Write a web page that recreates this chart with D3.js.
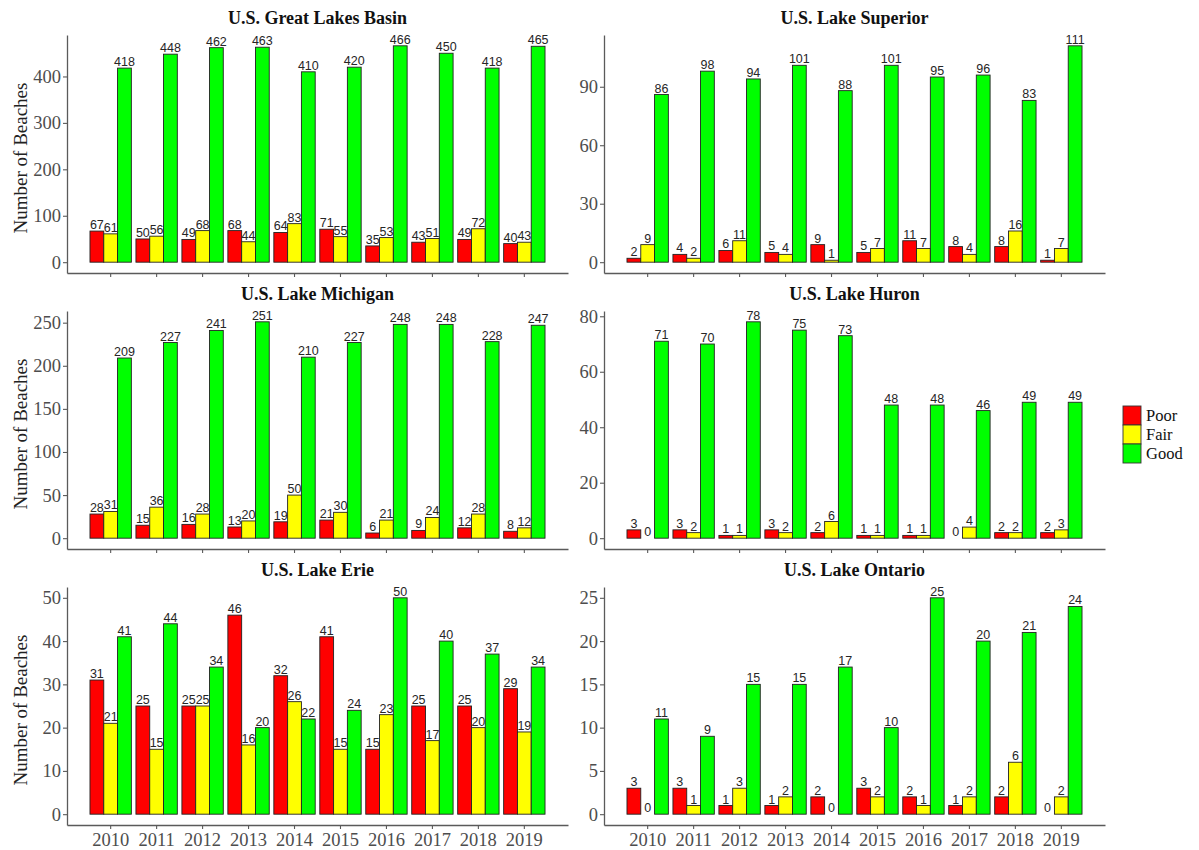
<!DOCTYPE html>
<html>
<head>
<meta charset="utf-8">
<script src="https://cdn.jsdelivr.net/npm/d3@7"></script>
<style>
  html, body { margin: 0; padding: 0; background: #fff; }
  svg { display: block; }
</style>
</head>
<body>
<svg id="chart" width="1199" height="850"></svg>
<script>
// Beach water-quality ratings per year, by lake
const years = ["2010","2011","2012","2013","2014","2015","2016","2017","2018","2019"];
const ratings = ["Poor","Fair","Good"];
const ratingColors = ["#ff0000","#ffff00","#00ff00"];

const basinPoor = [67,50,49,68,64,71,35,43,49,40];
const basinFair = [61,56,68,44,83,55,53,51,72,43];
const basinGood = [418,448,462,463,410,420,466,450,418,465];

const superiorPoor = [2,4,6,5,9,5,11,8,8,1];
const superiorFair = [9,2,11,4,1,7,7,4,16,7];
const superiorGood = [86,98,94,101,88,101,95,96,83,111];

const michiganPoor = [28,15,16,13,19,21,6,9,12,8];
const michiganFair = [31,36,28,20,50,30,21,24,28,12];
const michiganGood = [209,227,241,251,210,227,248,248,228,247];

const huronPoor = [3,3,1,3,2,1,1,0,2,2];
const huronFair = [0,2,1,2,6,1,1,4,2,3];
const huronGood = [71,70,78,75,73,48,48,46,49,49];

const eriePoor = [31,25,25,46,32,41,15,25,25,29];
const erieFair = [21,15,25,16,26,15,23,17,20,19];
const erieGood = [41,44,34,20,22,24,50,40,37,34];

const ontarioPoor = [3,3,1,1,2,3,2,1,2,0];
const ontarioFair = [0,1,3,2,0,2,1,2,6,2];
const ontarioGood = [11,9,15,15,17,10,25,20,21,24];

const basinTicks = [0,100,200,300,400];
const superiorTicks = [0,30,60,90];
const michiganTicks = [0,50,100,150,200,250];
const huronTicks = [0,20,40,60,80];
const erieTicks = [0,10,20,30,40,50];
const ontarioTicks = [0,5,10,15,20,25];

const panels = [
  { title: "U.S. Great Lakes Basin", col: 0, row: 0, series: [basinPoor, basinFair, basinGood], ticks: basinTicks },
  { title: "U.S. Lake Superior",     col: 1, row: 0, series: [superiorPoor, superiorFair, superiorGood], ticks: superiorTicks },
  { title: "U.S. Lake Michigan",     col: 0, row: 1, series: [michiganPoor, michiganFair, michiganGood], ticks: michiganTicks },
  { title: "U.S. Lake Huron",        col: 1, row: 1, series: [huronPoor, huronFair, huronGood], ticks: huronTicks },
  { title: "U.S. Lake Erie",         col: 0, row: 2, series: [eriePoor, erieFair, erieGood], ticks: erieTicks },
  { title: "U.S. Lake Ontario",      col: 1, row: 2, series: [ontarioPoor, ontarioFair, ontarioGood], ticks: ontarioTicks }
];

// Layout of the 2 x 3 grid of panels
const colX = [[67, 568], [604, 1105]];
const rowTop = [35, 311, 587];
const panelH = 238;

const serif = "'Liberation Serif', 'Times New Roman', serif";
const sans = "'Liberation Sans', Arial, sans-serif";
const axisGrey = "#5a5a5a";
const textGrey = "#4d4d4d";

const svg = d3.select("#chart");

panels.forEach(p => {
  const [x0, x1] = colX[p.col];
  const y0 = rowTop[p.row], y1 = y0 + panelH;
  const maxV = d3.max(p.series.flat());

  const x = d3.scaleBand().domain(years).range([x0, x1]).paddingInner(0.1).paddingOuter(0.5);
  const xInner = d3.scaleBand().domain(ratings).range([0, x.bandwidth()]);
  const y = d3.scaleLinear().domain([-0.05 * maxV, 1.05 * maxV]).range([y1, y0]);

  const g = svg.append("g");

  // Title
  g.append("text")
    .attr("x", (x0 + x1) / 2).attr("y", y0 - 11)
    .attr("text-anchor", "middle")
    .style("font-family", serif).style("font-weight", "bold").style("font-size", "18px")
    .attr("fill", "#111")
    .text(p.title);

  // Bars and value labels
  const rows = [];
  years.forEach((yr, i) => {
    ratings.forEach((r, k) => rows.push({ yr, r, k, v: p.series[k][i] }));
  });

  g.append("g").selectAll("rect").data(rows).join("rect")
    .attr("x", d => x(d.yr) + xInner(d.r))
    .attr("width", xInner.bandwidth())
    .attr("y", d => y(d.v))
    .attr("height", d => y(0) - y(d.v))
    .attr("fill", d => ratingColors[d.k])
    .attr("stroke", "#222")
    .attr("stroke-width", 0.9);

  g.append("g").selectAll("text").data(rows).join("text")
    .attr("x", d => x(d.yr) + xInner(d.r) + xInner.bandwidth() / 2)
    .attr("y", d => y(d.v) - 2)
    .attr("text-anchor", "middle")
    .style("font-family", sans).style("font-size", "12.5px")
    .attr("fill", "#262626")
    .text(d => d.v);

  // Axes
  const yAxis = d3.axisLeft(y).tickValues(p.ticks).tickSize(4).tickSizeOuter(0).tickPadding(2);
  const xAxis = d3.axisBottom(x).tickSize(4).tickSizeOuter(0).tickPadding(4);

  const ya = g.append("g").attr("transform", `translate(${x0},0)`).call(yAxis);
  const xa = g.append("g").attr("transform", `translate(0,${y1})`).call(xAxis);

  [ya, xa].forEach(a => {
    a.select(".domain").attr("stroke", axisGrey).attr("stroke-width", 1.3);
    a.selectAll(".tick line").attr("stroke", axisGrey).attr("stroke-width", 1.1);
    a.selectAll(".tick text")
      .style("font-family", serif).style("font-size", "18.5px")
      .attr("fill", textGrey);
  });
  if (p.row !== 2) xa.selectAll(".tick text").remove();

  // Y axis title on the left column only
  if (p.col === 0) {
    g.append("text")
      .attr("transform", `translate(20,${(y0 + y1) / 2 + 4}) rotate(-90)`)
      .attr("text-anchor", "middle")
      .attr("dominant-baseline", "central")
      .style("font-family", serif).style("font-size", "19px")
      .attr("fill", "#222")
      .text("Number of Beaches");
  }
});

// Legend
const keyH = 19;
const legend = svg.append("g").attr("transform", "translate(1123,406)");
ratings.forEach((r, k) => {
  legend.append("rect")
    .attr("x", 0).attr("y", k * keyH)
    .attr("width", 18).attr("height", keyH)
    .attr("fill", ratingColors[k])
    .attr("stroke", "#333").attr("stroke-width", 0.9);
  legend.append("text")
    .attr("x", 23).attr("y", k * keyH + keyH / 2)
    .attr("dominant-baseline", "central")
    .style("font-family", serif).style("font-size", "16.5px")
    .attr("fill", "#111")
    .text(r);
});
</script>
</body>
</html>
